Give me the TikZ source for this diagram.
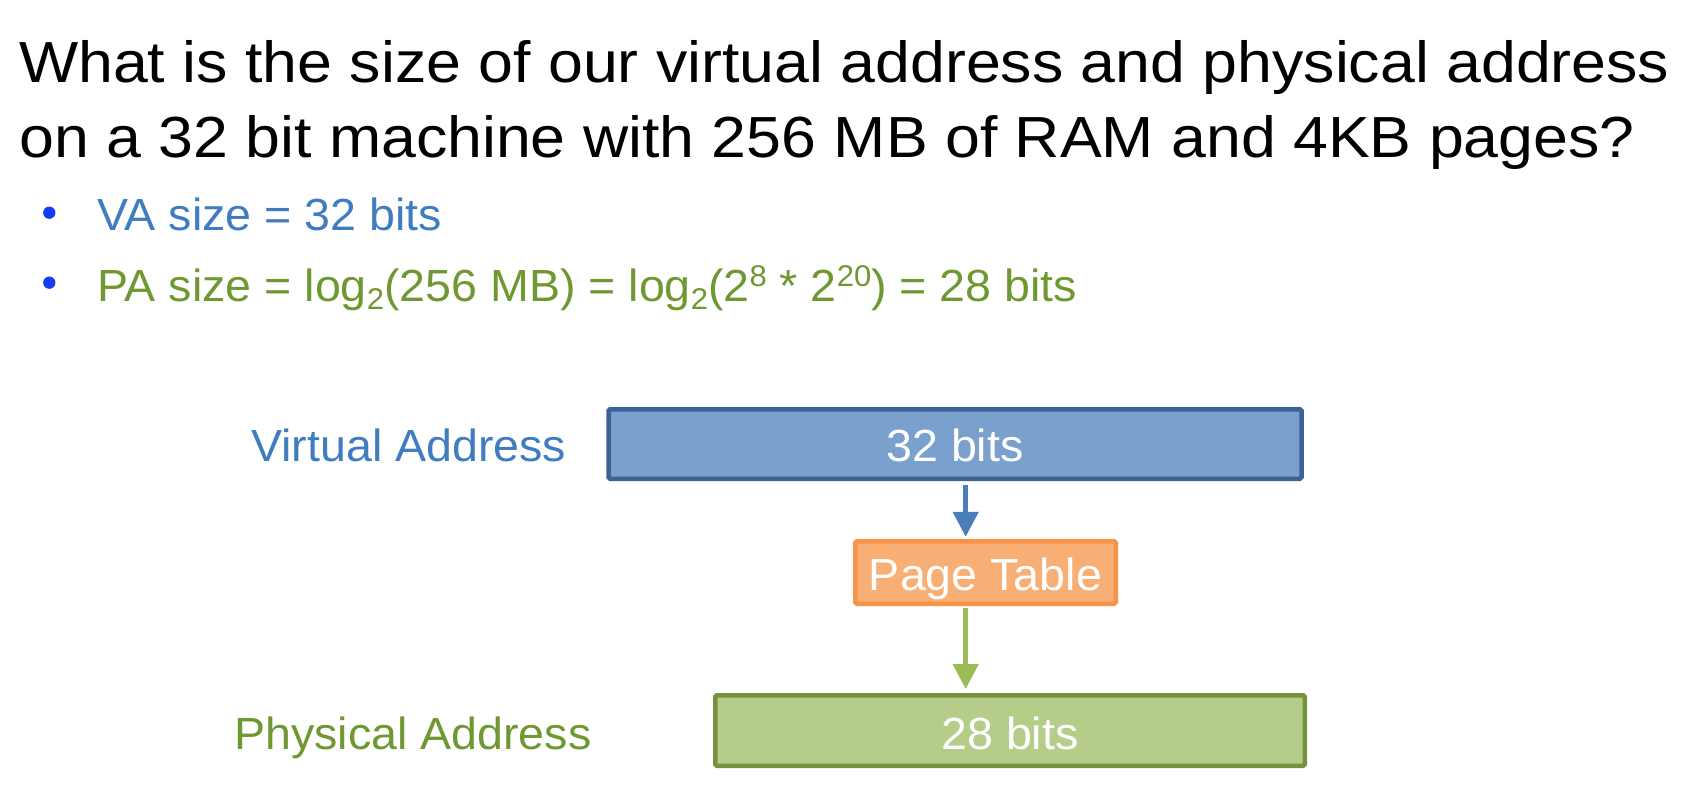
\documentclass[tikz,border=0pt]{standalone}
\usepackage{fontspec}
\setmainfont{Liberation Sans}
\newfontfamily\titleface{Liberation Sans}[FakeStretch=1.08]
\newfontfamily\bodyface{Liberation Sans}[FakeStretch=1.035]
\usetikzlibrary{arrows.meta}

\definecolor{vablue}{RGB}{63,125,192}
\definecolor{pagreen}{RGB}{112,152,50}
\definecolor{dotblue}{RGB}{20,60,245}
\definecolor{vafill}{RGB}{122,161,206}
\definecolor{vaedge}{RGB}{60,98,150}
\definecolor{ptfill}{RGB}{247,175,117}
\definecolor{ptedge}{RGB}{247,146,70}
\definecolor{pafill}{RGB}{181,205,136}
\definecolor{paedge}{RGB}{118,146,60}
\definecolor{arrblue}{RGB}{74,126,187}
\definecolor{arrgreen}{RGB}{155,187,89}

\newcommand\lowtwo{\raisebox{-0.18em}{\fontsize{30}{30}\selectfont 2}}
\newcommand\highexp[1]{\raisebox{0.32em}{\fontsize{30}{30}\selectfont #1}}

\begin{document}
\begin{tikzpicture}[x=1pt,y=-1pt,
  txt/.style={anchor=base west, inner sep=0pt},
  title/.style={txt, font=\titleface\fontsize{58}{58}\selectfont},
  body/.style={txt, font=\bodyface\fontsize{45}{45}\selectfont},
  dot/.style={circle, fill=dotblue, inner sep=0pt, minimum size=12.3pt},
  field/.style={rectangle, line width=4.5pt, rounded corners=1.5pt, text=white,
    font=\bodyface\fontsize{45}{45}\selectfont, text depth=0pt, inner sep=0pt},
  link/.style={line width=4.6pt, -{Triangle[length=25pt,width=25pt]}}
]
\useasboundingbox (0,0) rectangle (1690,808);

% question
\node[title] (q1) at (19,82) {What is the size of our virtual address and physical address};
\node[title] (q2) at (19,157) {on a 32 bit machine with 256 MB of RAM and 4KB pages?};

% answers
\node[dot] (b1) at (49.3,212.7) {};
\node[body, text=vablue] (a1) at (97,230) {VA size = 32 bits};
\node[dot] (b2) at (49.3,282.7) {};
\node[body, text=pagreen] (a2) at (97,301)
  {PA size = log\lowtwo(256 MB) = log\lowtwo(2\highexp{8} * 2\highexp{20}) = 28 bits};

% translation diagram
\node[body, text=vablue] (valbl) at (251,461) {Virtual Address};
\node[body, text=pagreen] (palbl) at (234,749) {Physical Address};

\node[field, fill=vafill, draw=vaedge, minimum width=693pt, minimum height=69.5pt,
  text height=34pt] (va) at (955,444) {32 bits};
\node[field, fill=ptfill, draw=ptedge, minimum width=260.5pt, minimum height=62.5pt,
  text height=36pt] (pt) at (985.5,572.5) {Page Table};
\node[field, fill=pafill, draw=paedge, minimum width=589.5pt, minimum height=70.5pt,
  text height=37pt] (pa) at (1010,730.5) {28 bits};

\coordinate (ax) at (965.7,0);
\draw[link, draw=arrblue, fill=arrblue, shorten <=4pt, shorten >=2.2pt]
  (va.south -| ax) -- (pt.north -| ax);
\draw[link, draw=arrgreen, fill=arrgreen, shorten <=2pt, shorten >=4pt]
  (pt.south -| ax) -- (pa.north -| ax);
\end{tikzpicture}
\end{document}
